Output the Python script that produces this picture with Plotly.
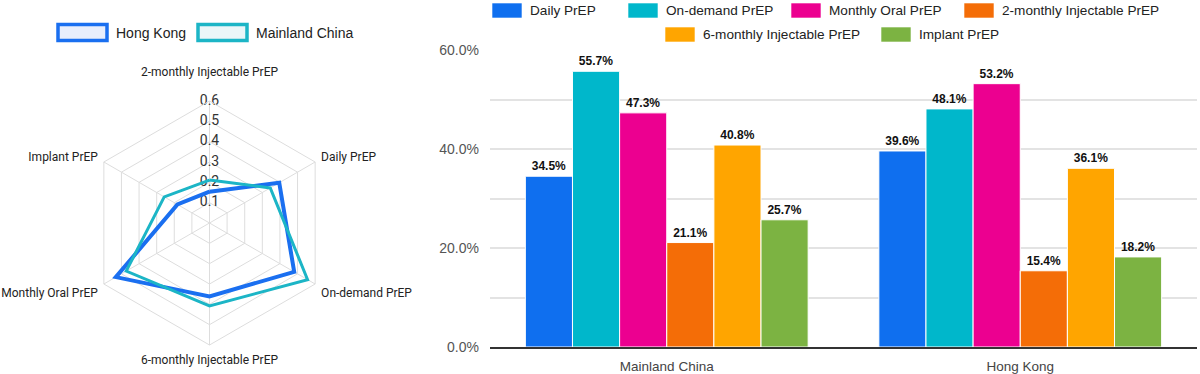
import plotly.graph_objects as go

# ---------------- data ----------------
prep_types = ["Daily PrEP", "On-demand PrEP", "Monthly Oral PrEP",
              "2-monthly Injectable PrEP", "6-monthly Injectable PrEP", "Implant PrEP"]
regions = ["Mainland China", "Hong Kong"]
mainland_china = [0.345, 0.557, 0.473, 0.211, 0.408, 0.257]
hong_kong = [0.396, 0.481, 0.532, 0.154, 0.361, 0.182]

radar_axes = ["2-monthly Injectable PrEP", "Daily PrEP", "On-demand PrEP",
              "6-monthly Injectable PrEP", "Monthly Oral PrEP", "Implant PrEP"]
radar_series = ["Hong Kong", "Mainland China"]
radar_ticks = [0.1, 0.2, 0.3, 0.4, 0.5, 0.6]
radar_tick_labels = ["0.1", "0.2", "0.3", "0.4", "0.5", "0.6"]

# ---------------- styles ----------------
W, H = 1200, 374
bar_colors = ["#0F6FEF", "#00B7CB", "#EC0090", "#F46D07", "#FFA500", "#7CB342"]
radar_colors = {"Hong Kong": "#1A6FF0", "Mainland China": "#1CB5C6"}
radar_fills = {"Hong Kong": "#E8EEFC", "Mainland China": "#EAF6F8"}
radar_widths = {"Hong Kong": 4, "Mainland China": 3}
GRID = "#DDDDDD"


def px(x):
    return x / W


def py(y):
    return 1 - y / H


fig = go.Figure()

# ---------------- grouped bars ----------------
by_region = {"Mainland China": mainland_china, "Hong Kong": hong_kong}
for i, name in enumerate(prep_types):
    fig.add_trace(go.Bar(
        x=regions,
        y=[by_region[r][i] for r in regions],
        name=name,
        marker=dict(color=bar_colors[i], line=dict(color="white", width=1)),
        texttemplate="%{y:.1%}",
        textposition="outside",
        textfont=dict(family="Liberation Sans, Arial", size=12, color="#111111", weight="bold"),
        cliponaxis=False,
        showlegend=False,
        xaxis="x", yaxis="y",
    ))

# ---------------- radar ----------------
# radial tick labels, centred on the vertical spoke (drawn first so lines sit on top)
fig.add_trace(go.Scatterpolar(
    r=radar_ticks,
    theta=[radar_axes[0]] * len(radar_ticks),
    mode="text",
    text=radar_tick_labels,
    textposition="middle center",
    textfont=dict(family="Roboto, Arial", size=14, color="#333333"),
    cliponaxis=False,
    showlegend=False,
    hoverinfo="skip",
    subplot="polar",
))

vals = {"Hong Kong": dict(zip(prep_types, hong_kong)),
        "Mainland China": dict(zip(prep_types, mainland_china))}
for s in radar_series:
    r = [vals[s][a] for a in radar_axes]
    fig.add_trace(go.Scatterpolar(
        r=r + [r[0]],
        theta=radar_axes + [radar_axes[0]],
        mode="lines",
        line=dict(color=radar_colors[s], width=radar_widths[s]),
        name=s,
        showlegend=False,
        subplot="polar",
    ))

# top spoke label sits above the radial tick labels: add an empty line under it
angular_ticktext = [radar_axes[0] + "<br> "] + radar_axes[1:]

fig.update_layout(
    width=W, height=H,
    margin=dict(l=0, r=0, t=0, b=0, autoexpand=False),
    paper_bgcolor="white",
    plot_bgcolor="white",
    barmode="group",
    bargap=0.2,
    bargroupgap=0.0,
    xaxis=dict(
        domain=[px(490), px(1197)],
        range=[-0.5, 1.5],
        automargin=False,
        showline=True, linecolor="#333333", linewidth=1.5,
        showgrid=False, ticks="",
        ticklabelstandoff=6,
        tickfont=dict(family="Liberation Sans, Arial", size=13.5, color="#444444"),
    ),
    yaxis=dict(
        domain=[1 - 347 / H, 1 - 50 / H],
        range=[0, 0.6],
        automargin=False,
        tickvals=[0, 0.2, 0.4, 0.6],
        tickformat=".1%",
        showgrid=True, gridcolor="#E3E3E3", gridwidth=1.5,
        minor=dict(tickvals=[0.1, 0.3, 0.5], showgrid=True, gridcolor="#E3E3E3", gridwidth=1.5),
        zeroline=False, ticks="",
        ticklabelstandoff=10,
        tickfont=dict(family="Liberation Sans, Arial", size=14, color="#555555"),
    ),
    polar=dict(
        domain=dict(x=[px(87.5), px(331.5)], y=[1 - 345 / H, 1 - 101 / H]),
        gridshape="linear",
        bgcolor="white",
        radialaxis=dict(
            range=[0, 0.6], tickvals=radar_ticks, showticklabels=False,
            angle=90, showline=False, ticks="",
            gridcolor=GRID, gridwidth=1,
        ),
        angularaxis=dict(
            direction="clockwise", rotation=90,
            tickvals=radar_axes, ticktext=angular_ticktext,
            showline=True, linecolor=GRID, linewidth=1,
            gridcolor=GRID, gridwidth=1,
            ticks="outside", ticklen=4, tickcolor="rgba(0,0,0,0)",
            tickfont=dict(family="Roboto, Arial", size=12, color="#222222"),
        ),
    ),
)

# ---------------- legends (drawn from series lists) ----------------
shapes, annos = [], []
bar_legend_layout = [(492, 10.5), (628, 10.5), (791, 10.5), (964, 10.5), (665, 34.5), (881, 34.5)]
for name, color, (x0, yc) in zip(prep_types, bar_colors, bar_legend_layout):
    shapes.append(dict(type="rect", xref="paper", yref="paper",
                       x0=px(x0), x1=px(x0 + 30), y0=py(yc + 7.5), y1=py(yc - 7.5),
                       fillcolor=color, line=dict(color="rgba(255,255,255,0.6)", width=1)))
    annos.append(dict(text=name, xref="paper", yref="paper", x=px(x0 + 36), y=py(yc),
                      xanchor="left", yanchor="middle", showarrow=False,
                      font=dict(family="Liberation Sans, Arial", size=13.6, color="#222222")))

radar_legend_layout = [(58, 32.5), (198, 32.5)]
for name, (x0, yc) in zip(radar_series, radar_legend_layout):
    shapes.append(dict(type="rect", xref="paper", yref="paper",
                       x0=px(x0), x1=px(x0 + 49), y0=py(yc + 8), y1=py(yc - 8),
                       fillcolor=radar_fills[name], line=dict(color=radar_colors[name], width=3.5)))
    annos.append(dict(text=name, xref="paper", yref="paper", x=px(x0 + 56), y=py(yc),
                      xanchor="left", yanchor="middle", showarrow=False,
                      font=dict(family="Liberation Sans, Arial", size=14, color="#222222")))

fig.update_layout(shapes=shapes, annotations=annos)
fig.write_html("out.html", config={"displayModeBar": False},
               post_script="document.body.style.margin='0px';")
